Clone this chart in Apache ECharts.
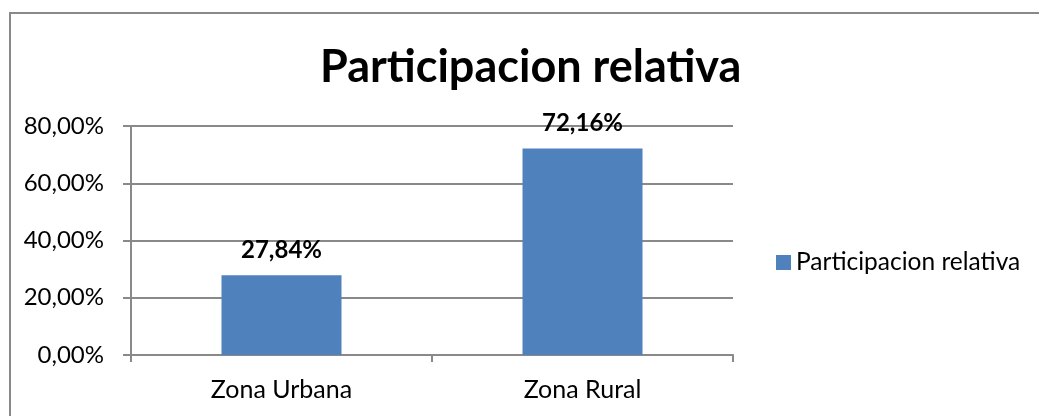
<!DOCTYPE html>
<html>
<head>
<meta charset="utf-8">
<script src="https://cdn.jsdelivr.net/npm/echarts@6/dist/echarts.min.js"></script>
<style>
  html, body { margin: 0; padding: 0; overflow: hidden; background: #fff; }
  #chart { width: 1039px; height: 416px; }
  #frame { position: absolute; left: 9px; top: 12px; width: 1100px; height: 500px;
           border: 2px solid #898989; box-sizing: border-box; pointer-events: none; }
</style>
</head>
<body>
<div id="chart"></div>
<div id="frame"></div>
<script>
var categories = ["Zona Urbana", "Zona Rural"];
var participacion = [0.2784, 0.7216];
var seriesName = "Participacion relativa";

function pct(v) {
  return (v * 100).toFixed(2).replace(".", ",") + "%";
}

var font = "Lato, 'Noto Sans', sans-serif";
var chart = echarts.init(document.getElementById("chart"));

chart.setOption({
  animation: false,
  title: {
    text: "Participacion relativa",
    left: 315,
    top: 40,
    textStyle: { fontFamily: font, fontSize: 45, fontWeight: "bold", color: "#000" }
  },
  legend: {
    data: [seriesName],
    left: 771,
    top: 245,
    itemWidth: 15,
    itemHeight: 15,
    itemGap: 7,
    icon: "rect",
    textStyle: { fontFamily: font, fontSize: 24.5, color: "#000" }
  },
  grid: { left: 131, right: 306, top: 126, bottom: 61 },
  xAxis: {
    type: "category",
    data: categories,
    boundaryGap: true,
    axisLine: { lineStyle: { color: "#898989", width: 2 } },
    axisTick: { show: true, length: 7, lineStyle: { color: "#898989", width: 2 } },
    axisLabel: { fontFamily: font, fontSize: 25, color: "#000", margin: 22 }
  },
  yAxis: {
    type: "value",
    min: 0,
    max: 0.8,
    interval: 0.2,
    axisLine: { show: true, lineStyle: { color: "#898989", width: 2 } },
    axisTick: { show: true, length: 8, lineStyle: { color: "#898989", width: 2 } },
    splitLine: { lineStyle: { color: "#898989", width: 2 } },
    axisLabel: { fontFamily: font, fontSize: 24, color: "#000", margin: 27, formatter: pct }
  },
  series: [{
    name: seriesName,
    type: "bar",
    data: participacion,
    barWidth: 120,
    itemStyle: { color: "#4F81BD" },
    label: {
      show: true,
      position: "top",
      distance: 13,
      fontFamily: font,
      fontSize: 24,
      fontWeight: "bold",
      color: "#000",
      formatter: function (p) { return pct(p.value); }
    }
  }]
});

window.addEventListener("resize", () => {
  if (chart) chart.resize();
});
</script>
</body>
</html>
